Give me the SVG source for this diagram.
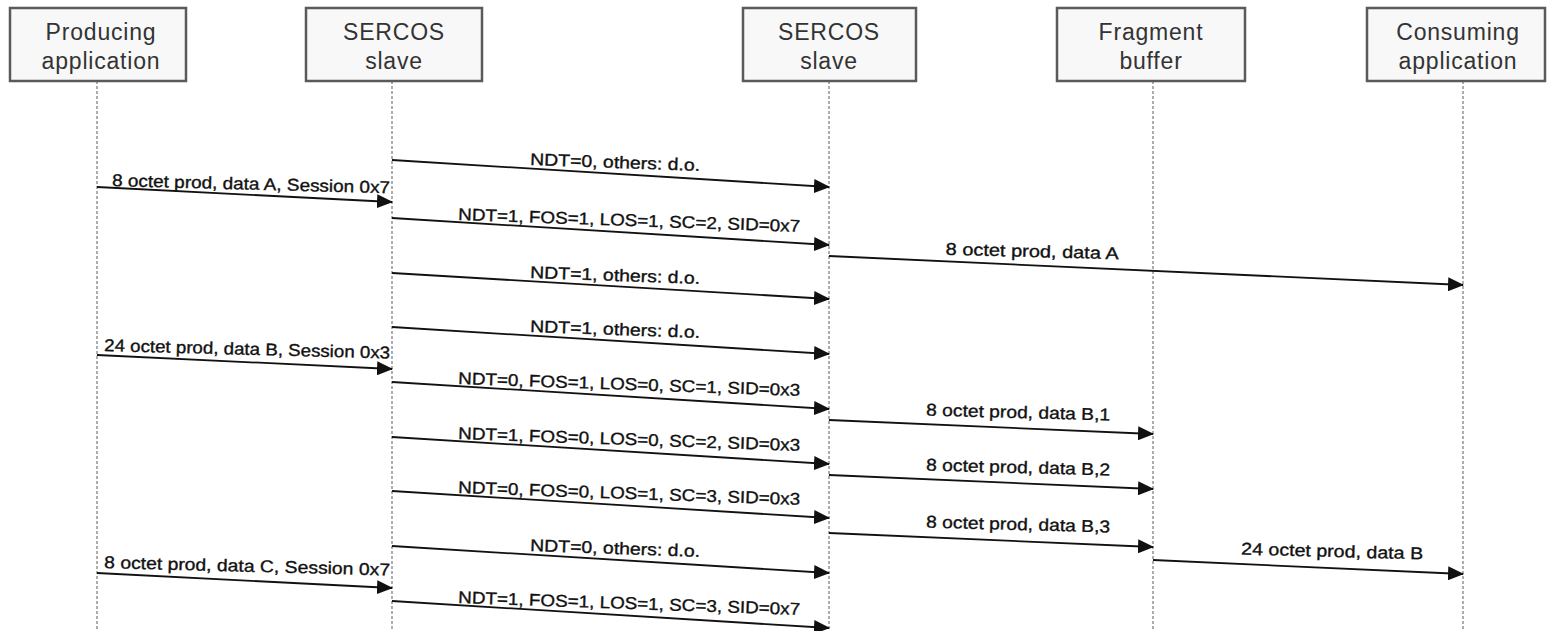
<svg xmlns="http://www.w3.org/2000/svg" width="1550" height="631" viewBox="0 0 1550 631">
<style>
.box{fill:#f8f8f8;stroke:#5a5a5a;stroke-width:2.5}
.bt{font-family:"Liberation Sans",Arial,sans-serif;font-size:23px;fill:#333;text-anchor:middle;letter-spacing:0.8px}
.life{stroke:#777;stroke-width:1.2;stroke-dasharray:3 2;fill:none}
.msg{stroke:#111;stroke-width:1.8;fill:none;marker-end:url(#ah)}
.lb{font-family:"Liberation Sans",Arial,sans-serif;font-size:17px;fill:#111;stroke:#111;stroke-width:0.35}
.c{text-anchor:middle}
</style>
<defs>
<marker id="ah" viewBox="0 0 16 14" refX="15" refY="7" markerWidth="16" markerHeight="14" markerUnits="userSpaceOnUse" orient="auto">
<path d="M0,0 L16,7 L0,14 Z" fill="#111"/>
</marker>
</defs>
<g id="lifelines">
<line class="life" x1="97" y1="81" x2="97" y2="631"/>
<line class="life" x1="392" y1="81" x2="392" y2="631"/>
<line class="life" x1="829" y1="81" x2="829" y2="631"/>
<line class="life" x1="1153" y1="81" x2="1153" y2="631"/>
<line class="life" x1="1463" y1="81" x2="1463" y2="631"/>
</g>
<g id="producing">
<rect class="box" x="10" y="8" width="176" height="73"/>
<text class="bt" x="101" y="40">Producing</text>
<text class="bt" x="101" y="69">application</text>
</g>
<g id="sercos1">
<rect class="box" x="306" y="8" width="176" height="73"/>
<text class="bt" x="394" y="40">SERCOS</text>
<text class="bt" x="394" y="69">slave</text>
</g>
<g id="sercos2">
<rect class="box" x="743" y="8" width="173" height="73"/>
<text class="bt" x="829" y="40">SERCOS</text>
<text class="bt" x="829" y="69">slave</text>
</g>
<g id="fragment">
<rect class="box" x="1057" y="8" width="188" height="73"/>
<text class="bt" x="1151" y="40">Fragment</text>
<text class="bt" x="1151" y="69">buffer</text>
</g>
<g id="consuming">
<rect class="box" x="1367" y="8" width="178" height="73"/>
<text class="bt" x="1458" y="40">Consuming</text>
<text class="bt" x="1458" y="69">application</text>
</g>
<g id="connectors">
<line class="msg" x1="392" y1="160" x2="829" y2="187"/>
<line class="msg" x1="97" y1="187" x2="392" y2="202"/>
<line class="msg" x1="392" y1="218" x2="829" y2="245"/>
<line class="msg" x1="829" y1="256" x2="1463" y2="285"/>
<line class="msg" x1="392" y1="273" x2="829" y2="299"/>
<line class="msg" x1="392" y1="327" x2="829" y2="354"/>
<line class="msg" x1="97" y1="355" x2="392" y2="369"/>
<line class="msg" x1="392" y1="382" x2="829" y2="409"/>
<line class="msg" x1="829" y1="420" x2="1153" y2="434"/>
<line class="msg" x1="392" y1="437" x2="829" y2="464"/>
<line class="msg" x1="829" y1="475" x2="1153" y2="489"/>
<line class="msg" x1="392" y1="491" x2="829" y2="518"/>
<line class="msg" x1="829" y1="533" x2="1153" y2="547"/>
<line class="msg" x1="392" y1="546" x2="829" y2="573"/>
<line class="msg" x1="97" y1="573" x2="392" y2="588"/>
<line class="msg" x1="1153" y1="560" x2="1463" y2="574"/>
<line class="msg" x1="392" y1="601" x2="829" y2="628"/>
<text class="lb c" x="615" y="168" textLength="170" lengthAdjust="spacingAndGlyphs" transform="rotate(2 615 168)">NDT=0, others: d.o.</text>
<text class="lb" x="112" y="186" textLength="278" lengthAdjust="spacingAndGlyphs" transform="rotate(1.5 112 186)">8 octet prod, data A, Session 0x7</text>
<text class="lb c" x="629" y="226" textLength="342" lengthAdjust="spacingAndGlyphs" transform="rotate(2 629 226)">NDT=1, FOS=1, LOS=1, SC=2, SID=0x7</text>
<text class="lb c" x="1032" y="257" textLength="173" lengthAdjust="spacingAndGlyphs" transform="rotate(1.5 1032 257)">8 octet prod, data A</text>
<text class="lb c" x="615" y="281" textLength="170" lengthAdjust="spacingAndGlyphs" transform="rotate(2 615 281)">NDT=1, others: d.o.</text>
<text class="lb c" x="615" y="335" textLength="170" lengthAdjust="spacingAndGlyphs" transform="rotate(2 615 335)">NDT=1, others: d.o.</text>
<text class="lb" x="104" y="351" textLength="286" lengthAdjust="spacingAndGlyphs" transform="rotate(1.5 104 351)">24 octet prod, data B, Session 0x3</text>
<text class="lb c" x="629" y="390" textLength="342" lengthAdjust="spacingAndGlyphs" transform="rotate(2 629 390)">NDT=0, FOS=1, LOS=0, SC=1, SID=0x3</text>
<text class="lb c" x="1018" y="418" textLength="184" lengthAdjust="spacingAndGlyphs" transform="rotate(1.5 1018 418)">8 octet prod, data B,1</text>
<text class="lb c" x="629" y="445" textLength="342" lengthAdjust="spacingAndGlyphs" transform="rotate(2 629 445)">NDT=1, FOS=0, LOS=0, SC=2, SID=0x3</text>
<text class="lb c" x="1018" y="473" textLength="184" lengthAdjust="spacingAndGlyphs" transform="rotate(1.5 1018 473)">8 octet prod, data B,2</text>
<text class="lb c" x="629" y="499" textLength="342" lengthAdjust="spacingAndGlyphs" transform="rotate(2 629 499)">NDT=0, FOS=0, LOS=1, SC=3, SID=0x3</text>
<text class="lb c" x="1018" y="530" textLength="184" lengthAdjust="spacingAndGlyphs" transform="rotate(1.5 1018 530)">8 octet prod, data B,3</text>
<text class="lb c" x="615" y="554" textLength="170" lengthAdjust="spacingAndGlyphs" transform="rotate(2 615 554)">NDT=0, others: d.o.</text>
<text class="lb" x="104" y="568" textLength="286" lengthAdjust="spacingAndGlyphs" transform="rotate(1.5 104 568)">8 octet prod, data C, Session 0x7</text>
<text class="lb c" x="1332" y="557" textLength="182" lengthAdjust="spacingAndGlyphs" transform="rotate(1.5 1332 557)">24 octet prod, data B</text>
<text class="lb c" x="629" y="609" textLength="342" lengthAdjust="spacingAndGlyphs" transform="rotate(2 629 609)">NDT=1, FOS=1, LOS=1, SC=3, SID=0x7</text>
</g>
</svg>
